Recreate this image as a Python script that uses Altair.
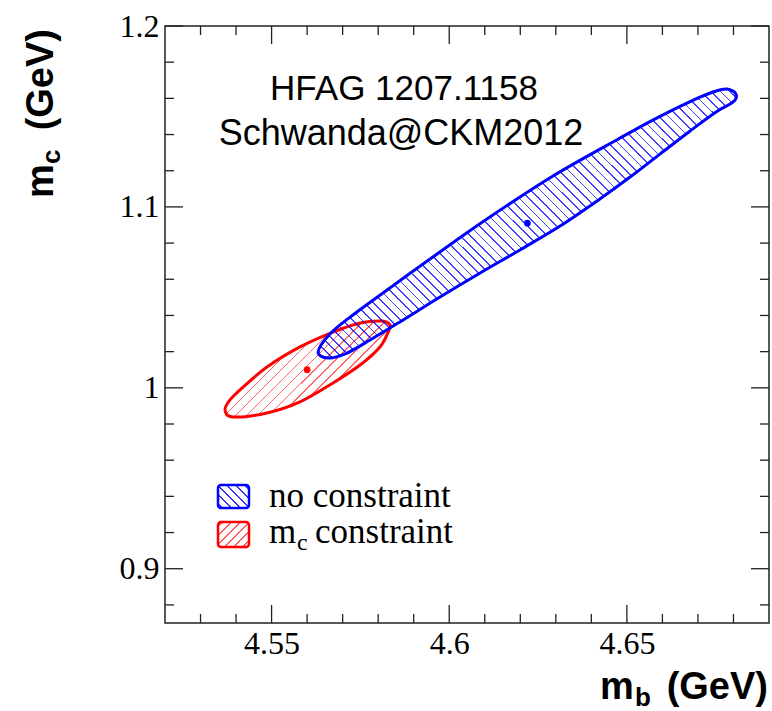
import math
import altair as alt
import pandas as pd

# ---------------- data ----------------
X_DOMAIN = [4.52, 4.69]
Y_DOMAIN = [0.87, 1.20]

# 1-sigma contour, no constraint (blue)
blue_mb = [4.5631, 4.5664, 4.5721, 4.5833, 4.5946, 4.6106, 4.6292, 4.6481, 4.6573,
           4.6669, 4.6742, 4.6782, 4.6807, 4.6799, 4.6751, 4.6678, 4.6593, 4.6509,
           4.6424, 4.6312, 4.6199, 4.6087, 4.5974, 4.5861, 4.5777, 4.5707, 4.5659]
blue_mc = [1.0198, 1.0297, 1.0391, 1.0552, 1.0712, 1.0933, 1.1171, 1.1381, 1.1480,
           1.1574, 1.1635, 1.1652, 1.1624, 1.1580, 1.1525, 1.1420, 1.1292, 1.1165,
           1.1044, 1.0894, 1.0762, 1.0635, 1.0502, 1.0364, 1.0264, 1.0187, 1.0165]
# 1-sigma contour, m_c constraint (red)
red_mb = [4.5369, 4.5391, 4.5487, 4.5580, 4.5673, 4.5749, 4.5805, 4.5828, 4.5833,
          4.5811, 4.5749, 4.5673, 4.5580, 4.5487, 4.5420, 4.5383]
red_mc = [0.9877, 0.9839, 0.9861, 0.9922, 1.0027, 1.0126, 1.0226, 1.0308, 1.0347,
          1.0369, 1.0358, 1.0308, 1.0226, 1.0115, 1.0004, 0.9933]
# central values
blue_center_mb, blue_center_mc = [4.622], [1.091]
red_center_mb, red_center_mc = [4.560], [1.010]

# axis tick values
x_major = [4.55, 4.6, 4.65]
x_minor = [4.53, 4.54, 4.56, 4.57, 4.58, 4.59, 4.61, 4.62, 4.63, 4.64, 4.66, 4.67, 4.68]
y_major = [0.9, 1.0, 1.1, 1.2]
y_minor = [0.88, 0.92, 0.94, 0.96, 0.98, 1.02, 1.04, 1.06, 1.08, 1.12, 1.14, 1.16, 1.18]

annotation_lines = ["HFAG 1207.1158", "Schwanda@CKM2012"]
legend_labels = ["no constraint", "constraint"]

# ---------------- layout / style ----------------
PW, PH = 604, 597
BLUE = "#0000ff"
RED = "#ff0000"
FRAME = "#222222"

xs = alt.Scale(domain=X_DOMAIN, nice=False, zero=False)
ys = alt.Scale(domain=Y_DOMAIN, nice=False, zero=False)

AX = alt.Axis(values=x_major, format="~g", ticks=False, domain=False, grid=False,
              labelFont="Liberation Serif", labelFontSize=32, labelColor="black",
              labelPadding=5, labelFlush=False, labelOverlap=False, labelBound=False,
              title=None)
AY = alt.Axis(values=y_major, format="~g", ticks=False, domain=False, grid=False,
              labelFont="Liberation Serif", labelFontSize=32, labelColor="black",
              labelPadding=6, labelFlush=False, labelOverlap=False, labelBound=False,
              title=None)


def hatch(rgb, W, H, direction, spacing, lw, alpha):
    """Striped linear gradient imitating a ROOT hatch pattern."""
    s2 = math.sqrt(0.5)
    n = (s2, -s2) if direction == "back" else (s2, s2)
    g = (n[0] * W, n[1] * H)
    corners = [(0, 0), (1, 0), (0, 1), (1, 1)]
    fs = [c[0] * g[0] + c[1] * g[1] for c in corners]
    i0 = fs.index(min(fs))
    L = max(fs) - min(fs)
    gg = g[0] ** 2 + g[1] ** 2
    s = corners[i0]
    e = (s[0] + g[0] * L / gg, s[1] + g[1] * L / gg)
    r, gr, b = rgb
    clear = f"rgba({r},{gr},{b},0)"
    ink = f"rgba({r},{gr},{b},{alpha})"
    stops = [alt.GradientStop(color=clear, offset=0)]
    k = 0
    while True:
        c = (k + 0.5) * spacing / L
        lo, hi = c - lw / 2 / L, c + lw / 2 / L
        if hi >= 1:
            break
        stops += [alt.GradientStop(color=clear, offset=lo),
                  alt.GradientStop(color=ink, offset=lo),
                  alt.GradientStop(color=ink, offset=hi),
                  alt.GradientStop(color=clear, offset=hi)]
        k += 1
    stops.append(alt.GradientStop(color=clear, offset=1))
    return alt.Gradient(gradient="linear", stops=stops,
                        x1=s[0], y1=s[1], x2=e[0], y2=e[1])


def px_w(vals):
    return (max(vals) - min(vals)) * PW / (X_DOMAIN[1] - X_DOMAIN[0])


def px_h(vals):
    return (max(vals) - min(vals)) * PH / (Y_DOMAIN[1] - Y_DOMAIN[0])


def contour(mb, mc, color, grad):
    df = pd.DataFrame({"mb": mb, "mc": mc, "i": range(len(mb))})
    return alt.Chart(df).mark_line(
        interpolate="cardinal-closed", stroke=color, strokeWidth=3, fill=grad
    ).encode(
        x=alt.X("mb:Q", scale=xs, axis=AX),
        y=alt.Y("mc:Q", scale=ys, axis=AY),
        order=alt.Order("i:Q"),
    )


def center(mb, mc, color):
    df = pd.DataFrame({"mb": mb, "mc": mc})
    return alt.Chart(df).mark_point(filled=True, size=45, color=color, opacity=1).encode(
        x=alt.X("mb:Q", scale=xs, axis=AX), y=alt.Y("mc:Q", scale=ys, axis=AY))


def xticks(vals, y0, y1):
    return alt.Chart(pd.DataFrame({"mb": vals})).mark_rule(color=FRAME, strokeWidth=1.3).encode(
        x=alt.X("mb:Q", scale=xs, axis=AX), y=alt.value(y0), y2=alt.value(y1))


def yticks(vals, x0, x1):
    return alt.Chart(pd.DataFrame({"mc": vals})).mark_rule(color=FRAME, strokeWidth=1.3).encode(
        y=alt.Y("mc:Q", scale=ys, axis=AY), x=alt.value(x0), x2=alt.value(x1))


def text(t, x, y, size, font="Liberation Sans", weight="normal", align="left", angle=0):
    kw = dict(text=t, font=font, fontSize=size, fontWeight=weight, align=align,
              baseline="alphabetic", color="black")
    if angle:
        kw["angle"] = angle
    return alt.Chart(pd.DataFrame({"k": [0]})).mark_text(**kw).encode(
        x=alt.value(x), y=alt.value(y))


MAJ, MIN = 18, 9
layers = []

red_grad = hatch((255, 0, 0), px_w(red_mb), px_h(red_mc), "fwd", 7.8, 1.2, 0.6)
blue_grad = hatch((0, 0, 255), px_w(blue_mb), px_h(blue_mc), "back", 6.8, 1.2, 0.75)
layers.append(contour(red_mb, red_mc, RED, red_grad))
layers.append(contour(blue_mb, blue_mc, BLUE, blue_grad))
layers.append(center(red_center_mb, red_center_mc, RED))
layers.append(center(blue_center_mb, blue_center_mc, BLUE))

# inward ticks on all four sides
layers += [xticks(x_major, PH, PH - MAJ), xticks(x_minor, PH, PH - MIN),
           xticks(x_major, 0, MAJ), xticks(x_minor, 0, MIN),
           yticks(y_major, 0, MAJ), yticks(y_minor, 0, MIN),
           yticks(y_major, PW, PW - MAJ), yticks(y_minor, PW, PW - MIN)]

# annotation
layers.append(text(annotation_lines[0], 239, 74, 35, align="center"))
layers.append(text(annotation_lines[1], 236, 119, 36, align="center"))

# legend
leg_blue = hatch((0, 0, 255), 31, 23, "back", 6.4, 1.3, 0.8)
leg_red = hatch((255, 0, 0), 31, 25, "fwd", 6.4, 1.3, 0.65)
for (y0, y1, col, g) in [(459, 482, BLUE, leg_blue), (496, 521, RED, leg_red)]:
    layers.append(alt.Chart(pd.DataFrame({"k": [0]})).mark_rect(
        fill=g, stroke=col, strokeWidth=2.5, cornerRadius=3).encode(
        x=alt.value(53), x2=alt.value(84), y=alt.value(y0), y2=alt.value(y1)))
layers.append(text(legend_labels[0], 104, 481, 35, font="Liberation Serif"))
layers.append(text("m", 104, 517, 35, font="Liberation Serif"))
layers.append(text("c", 132, 524, 24, font="Liberation Serif"))
layers.append(text(legend_labels[1], 150, 517, 35, font="Liberation Serif"))

# axis titles (with subscripts)
layers.append(text("m", 435, 673, 38, weight="bold"))
layers.append(text("b", 470, 680, 26, weight="bold"))
layers.append(text("(GeV)", 603, 673, 38, weight="bold", align="right"))
layers.append(text("m", -112, 172, 38, weight="bold", angle=270))
layers.append(text("c", -105, 138, 26, weight="bold", angle=270))
layers.append(text("(GeV)", -112, 3, 38, weight="bold", align="right", angle=270))

chart = alt.layer(*layers).properties(
    width=PW, height=PH,
    padding={"left": 165, "top": 26, "right": 3, "bottom": 88},
    autosize=alt.AutoSizeParams(type="none"),
    background="white",
).configure_view(stroke=FRAME, strokeWidth=1.5)

chart.save("out.html", embed_options={"renderer": "svg", "actions": False})
